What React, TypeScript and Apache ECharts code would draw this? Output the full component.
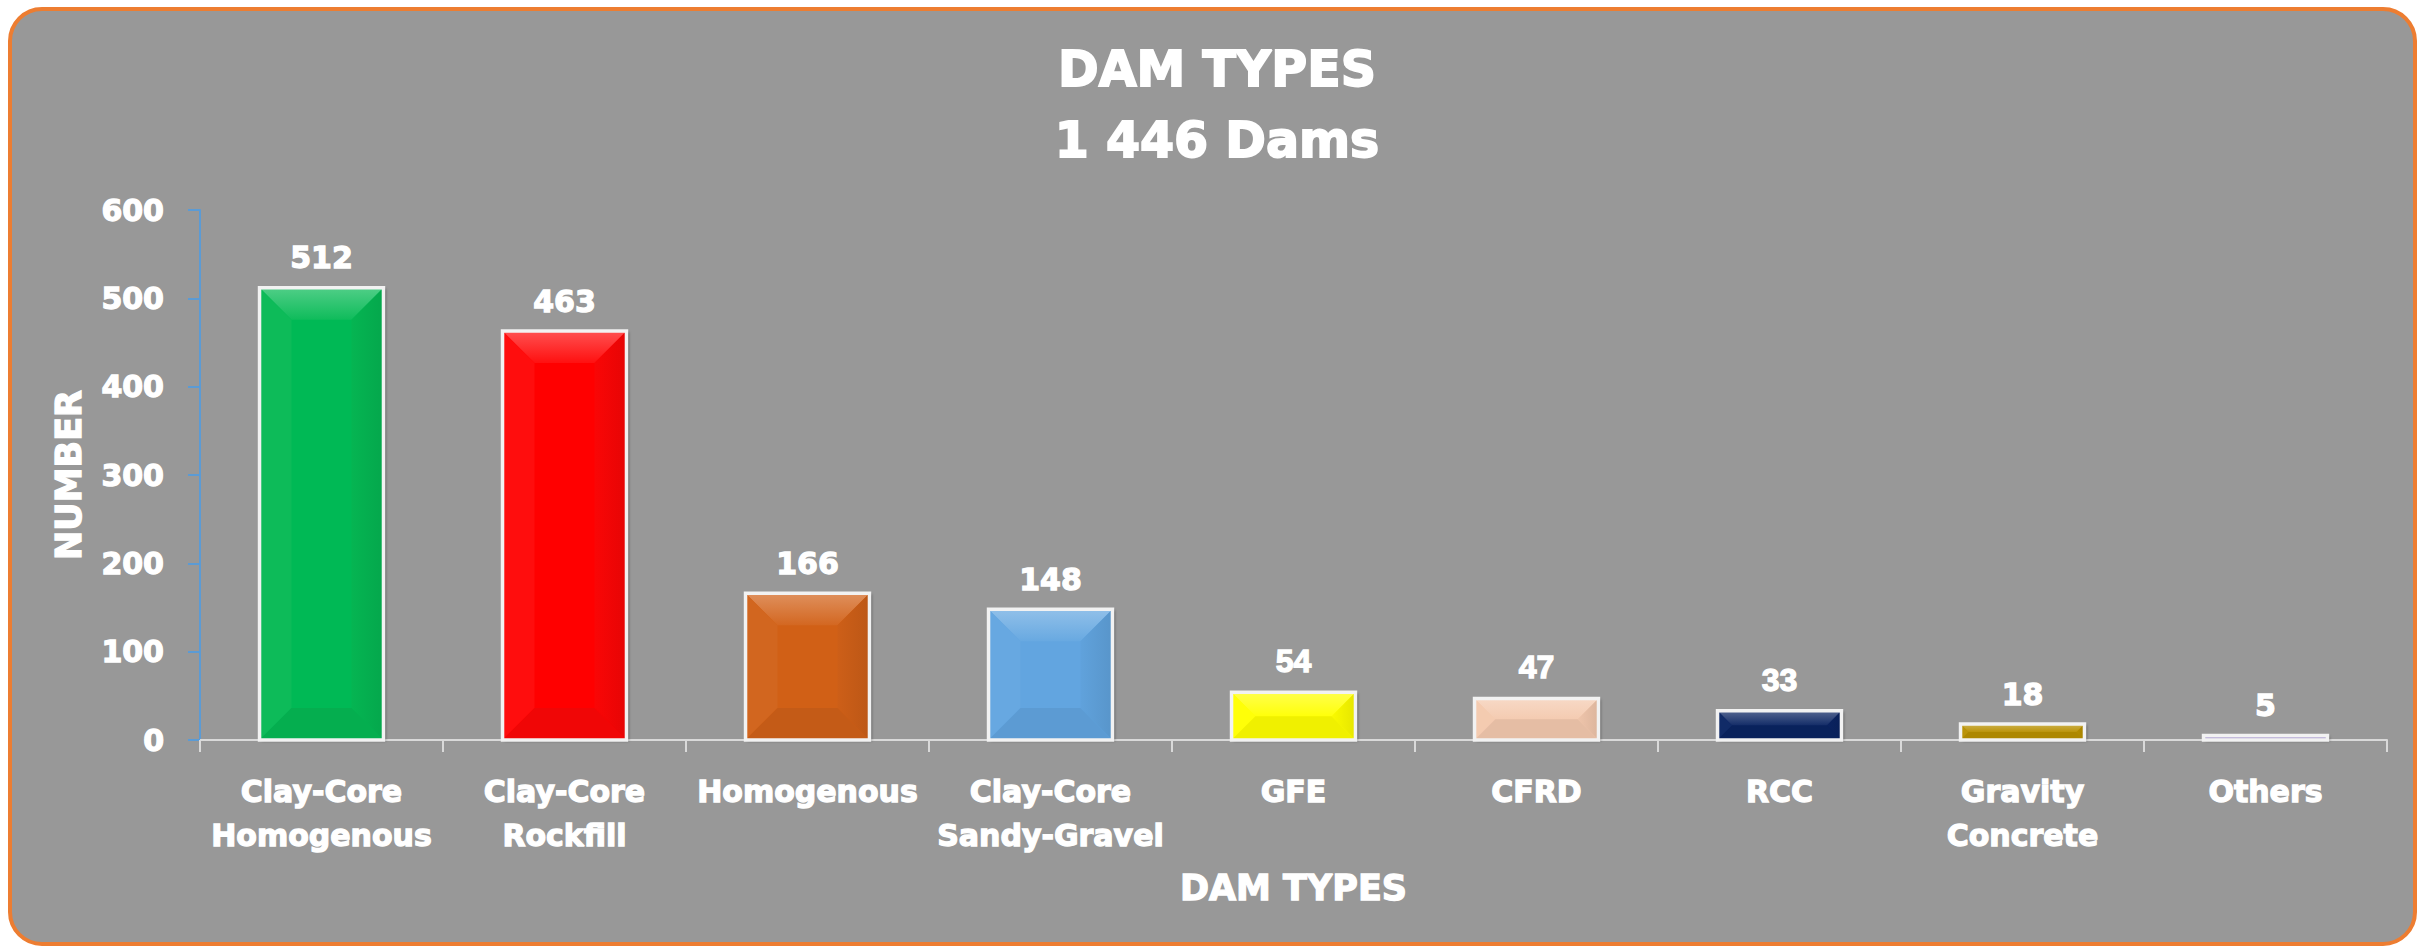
import React, { useEffect, useRef } from "react";
import * as echarts from "echarts";

const categories = [
  "Clay-Core\nHomogenous",
  "Clay-Core\nRockfill",
  "Homogenous",
  "Clay-Core\nSandy-Gravel",
  "GFE",
  "CFRD",
  "RCC",
  "Gravity\nConcrete",
  "Others",
];
const damCounts = [512, 463, 166, 148, 54, 47, 33, 18, 5];
const yTicks = [0, 100, 200, 300, 400, 500, 600];
const titleLines = ["DAM TYPES", "1 446 Dams"];

const barColors = [
  "#05B954",
  "#FF0606",
  "#D16118",
  "#62A5E0",
  "#FFFF00",
  "#F4C9AE",
  "#0A2462",
  "#B89000",
  "#B4A7D6",
];
const narrowLabel = [false, false, false, false, true, true, true, false, false];

function mix(hex: string, target: number, amt: number): string {
  const h = hex.replace("#", "");
  const r = parseInt(h.slice(0, 2), 16);
  const g = parseInt(h.slice(2, 4), 16);
  const b = parseInt(h.slice(4, 6), 16);
  const f = (c: number) => Math.round(c + (target - c) * amt);
  return `rgb(${f(r)},${f(g)},${f(b)})`;
}
const lighten = (c: string, a: number) => mix(c, 255, a);
const darken = (c: string, a: number) => mix(c, 0, a);

const FONT = '"DejaVu Sans", "Liberation Sans", sans-serif';
const heavy = { textBorderColor: "#ffffff", textBorderWidth: 1.3 };

export default function App() {
  const ref = useRef<HTMLDivElement>(null);
  useEffect(() => {
    if (!ref.current) return;
    const chart = echarts.init(ref.current, undefined, { renderer: "svg" });
    const option: any = {
      animation: false,
      backgroundColor: "#ffffff",
      graphic: [
        {
          type: "rect",
          z: -10,
          silent: true,
          shape: { x: 10, y: 9, width: 2405, height: 935, r: 32 },
          style: { fill: "#989898", stroke: "#ED7D31", lineWidth: 4 },
        },
      ],
      title: {
        text: titleLines.join("\n"),
        left: 1212,
        textAlign: "center",
        top: 29,
        textStyle: {
          color: "#ffffff",
          fontFamily: FONT,
          fontWeight: "bold",
          fontSize: 49,
          lineHeight: 71,
          textBorderColor: "#ffffff",
          textBorderWidth: 1.8,
        },
      },
      grid: { left: 200, right: 30, top: 210, bottom: 206, containLabel: false },
      xAxis: {
        type: "category",
        data: categories,
        name: "DAM TYPES",
        nameLocation: "middle",
        nameGap: 130,
        nameTextStyle: {
          color: "#ffffff",
          fontFamily: FONT,
          fontWeight: "bold",
          fontSize: 35,
          ...heavy,
        },
        axisLine: { show: true, lineStyle: { color: "#D9D9D9", width: 2 } },
        axisTick: { show: true, length: 12, interval: 0, lineStyle: { color: "#D9D9D9", width: 2 } },
        axisLabel: {
          interval: 0,
          margin: 29,
          color: "#ffffff",
          fontFamily: FONT,
          fontWeight: "bold",
          fontSize: 30,
          lineHeight: 44,
          ...heavy,
        },
        splitLine: { show: false },
      },
      yAxis: {
        type: "value",
        min: yTicks[0],
        max: yTicks[yTicks.length - 1],
        interval: yTicks[1] - yTicks[0],
        name: "NUMBER",
        nameLocation: "middle",
        nameGap: 114,
        nameRotate: 90,
        nameTextStyle: {
          color: "#ffffff",
          fontFamily: FONT,
          fontWeight: "bold",
          fontSize: 35,
          ...heavy,
        },
        axisLine: { show: true, lineStyle: { color: "#5B9BD5", width: 2 } },
        axisTick: { show: true, length: 12, lineStyle: { color: "#5B9BD5", width: 2 } },
        axisLabel: {
          margin: 36,
          color: "#ffffff",
          fontFamily: FONT,
          fontWeight: "bold",
          fontSize: 30,
          ...heavy,
        },
        splitLine: { show: false },
      },
      series: [
        {
          type: "custom",
          encode: { x: 0, y: 1 },
          data: damCounts.map((v, i) => [i, v]),
          renderItem: (params: any, api: any) => {
            const idx = api.value(0) as number;
            const val = api.value(1) as number;
            const top = api.coord([idx, val]);
            const bottom = api.coord([idx, 0]);
            const bw = api.size([1, 0])[0] * 0.51;
            const x0 = top[0] - bw / 2;
            const x1 = top[0] + bw / 2;
            const y0 = top[1];
            const y1 = bottom[1];
            const h = y1 - y0;
            const b = Math.min(32, h / 2, bw / 2);
            const c = barColors[idx];
            const labelFont = narrowLabel[idx]
              ? 'bold 32px "Liberation Sans Narrow", "Liberation Sans", sans-serif'
              : `bold 30px ${FONT}`;
            return {
              type: "group",
              children: [
                {
                  type: "rect",
                  shape: { x: x0, y: y0, width: bw, height: h },
                  style: {
                    fill: c,
                    shadowBlur: 3,
                    shadowColor: "rgba(0,0,0,0.45)",
                    shadowOffsetX: 2,
                    shadowOffsetY: 1,
                  },
                },
                {
                  type: "polygon",
                  shape: { points: [[x0, y0], [x1, y0], [x1 - b, y0 + b], [x0 + b, y0 + b]] },
                  style: {
                    fill: {
                      type: "linear",
                      x: 0,
                      y: 0,
                      x2: 0,
                      y2: 1,
                      colorStops: [
                        { offset: 0, color: lighten(c, 0.3) },
                        { offset: 1, color: lighten(c, 0.04) },
                      ],
                    },
                  },
                },
                {
                  type: "polygon",
                  shape: { points: [[x0, y0], [x0 + b, y0 + b], [x0 + b, y1 - b], [x0, y1]] },
                  style: { fill: lighten(c, 0.03) },
                },
                {
                  type: "polygon",
                  shape: { points: [[x1, y0], [x1, y1], [x1 - b, y1 - b], [x1 - b, y0 + b]] },
                  style: {
                    fill: {
                      type: "linear",
                      x: 0,
                      y: 0,
                      x2: 1,
                      y2: 0,
                      colorStops: [
                        { offset: 0, color: darken(c, 0.02) },
                        { offset: 1, color: darken(c, 0.1) },
                      ],
                    },
                  },
                },
                {
                  type: "polygon",
                  shape: { points: [[x0, y1], [x0 + b, y1 - b], [x1 - b, y1 - b], [x1, y1]] },
                  style: { fill: darken(c, 0.06) },
                },
                {
                  type: "rect",
                  shape: { x: x0, y: y0, width: bw, height: h },
                  style: { fill: "none", stroke: "#F2F2F2", lineWidth: 3.5 },
                },
                {
                  type: "text",
                  x: top[0],
                  y: y0 - 15,
                  style: {
                    text: String(val),
                    fill: "#ffffff",
                    font: labelFont,
                    align: "center",
                    verticalAlign: "bottom",
                    stroke: "#ffffff",
                    lineWidth: 1.3,
                  },
                },
              ],
            };
          },
        },
      ],
    };
    chart.setOption(option);
    return () => chart.dispose();
  }, []);
  return (
    <div
      ref={ref}
      style={{ position: "fixed", left: 0, top: 0, width: 2417, height: 946 }}
    />
  );
}
